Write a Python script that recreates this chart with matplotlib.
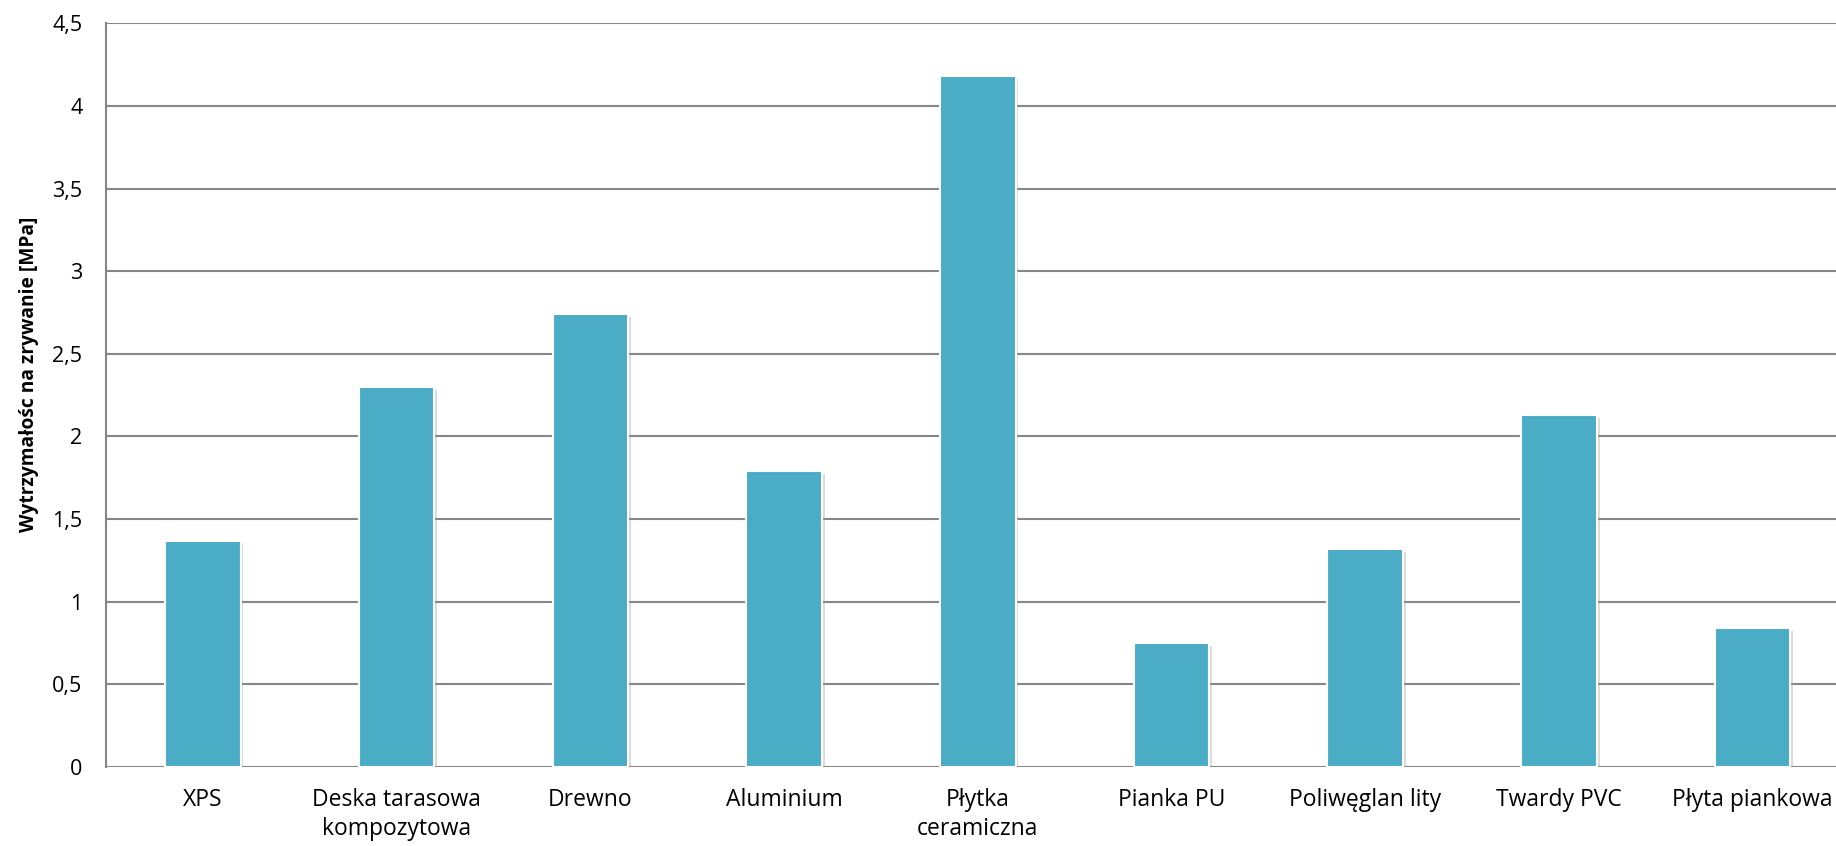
import matplotlib
matplotlib.use("Agg")
import matplotlib.pyplot as plt
import matplotlib.patheffects as pe
from matplotlib.ticker import FuncFormatter

categories = ["XPS", "Deska tarasowa\nkompozytowa", "Drewno", "Aluminium", "Płytka\nceramiczna",
              "Pianka PU", "Poliwęglan lity", "Twardy PVC", "Płyta piankowa"]
values = [1.37, 2.30, 2.74, 1.79, 4.18, 0.75, 1.32, 2.13, 0.84]
yticks = [0, 0.5, 1, 1.5, 2, 2.5, 3, 3.5, 4, 4.5]

plt.rcParams['font.family'] = ['Open Sans', 'DejaVu Sans']

fig = plt.figure(figsize=(18.36, 8.46), dpi=100)
ax = fig.add_axes([106/1836, 1-767/846, 1-106/1836, (767-23.3)/846])

x = list(range(len(categories)))
bars = ax.bar(x, values, width=0.39, color='#4BACC6', edgecolor='white', linewidth=1.5, zorder=3)
for b in bars:
    b.set_path_effects([pe.SimplePatchShadow(offset=(2, -2), shadow_rgbFace='#999999', alpha=0.35), pe.Normal()])

ax.set_ylim(0, 4.5)
ax.set_xlim(-0.5, 8.43)
ax.set_yticks(yticks)
ax.yaxis.set_major_formatter(FuncFormatter(lambda v, p: (f"{v:g}").replace('.', ',')))
ax.set_xticks(x)
ax.set_xticklabels(categories, fontsize=16.5, linespacing=1.3)
ax.tick_params(axis='y', labelsize=15.5, length=0, pad=17)
ax.tick_params(axis='x', length=0, pad=15)
ax.grid(axis='y', color='#868686', linewidth=1.5, zorder=0)
for s in ['top', 'right', 'bottom']:
    ax.spines[s].set_visible(False)
ax.spines['left'].set_color('#868686')
ax.spines['left'].set_linewidth(1.5)
ax.set_ylabel("Wytrzymałośc na zrywanie [MPa]", fontsize=13.8, fontweight='bold')
ax.yaxis.set_label_coords(-0.039, 0.5275)

fig.savefig("out.png", dpi=100)
